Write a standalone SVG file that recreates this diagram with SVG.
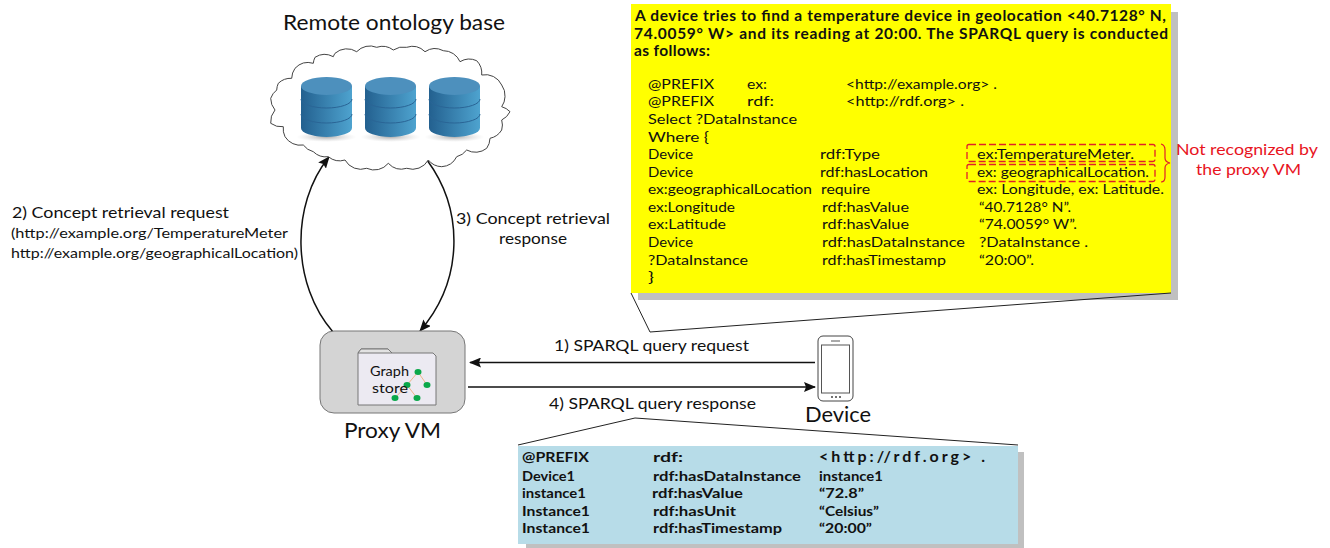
<svg xmlns="http://www.w3.org/2000/svg" width="1330" height="548" viewBox="0 0 1330 548">
<style>
text{font-family:"Lato","Open Sans","Liberation Sans",sans-serif;fill:#111;white-space:pre}
.b{font-weight:700;font-size:14px}
.h1{font-weight:700;font-size:15.5px}
.t{font-size:14px}
.l{font-size:16px}
.h{font-size:21px}
.r{font-size:16px;fill:#e8141e}
.c{fill:none;stroke:#111;stroke-width:1.5}
.cal{fill:none;stroke:#222;stroke-width:1}
.dash{fill:none;stroke:#e0202a;stroke-width:1.3;stroke-dasharray:7 3}
.e{stroke:#eeb48a;stroke-width:1;fill:none}
.d{fill:#0aa84a}
.band{fill:none;stroke:#2a6596;stroke-width:1}
</style>
<defs>
<marker id="ah" markerUnits="userSpaceOnUse" markerWidth="12" markerHeight="10" refX="11" refY="5" orient="auto"><path d="M0 0L12 5L0 10L2 5Z" fill="#111"/></marker>
<linearGradient id="cy" x1="0" x2="1" y1="0" y2="0"><stop offset="0" stop-color="#23608f"/><stop offset="1" stop-color="#4ea3cf"/></linearGradient>
<radialGradient id="sh"><stop offset="0" stop-color="#999" stop-opacity=".8"/><stop offset="1" stop-color="#ccc" stop-opacity="0"/></radialGradient>
<g id="cyl">
<ellipse cx="25.5" cy="60" rx="30" ry="5" fill="url(#sh)"/>
<path d="M0 9V51A25.5 9 0 0 0 51 51V9Z" fill="url(#cy)"/>
<ellipse cx="25.5" cy="9" rx="25.5" ry="9" fill="#4d90bd"/>
<path class="band" d="M0 22A25.5 9 0 0 0 51 22M0 37A25.5 9 0 0 0 51 37"/>
</g>
</defs>
<g id="connectors">
<path class="c" marker-end="url(#ah)" d="M333 332C292 285 290 205 329 157"/>
<path class="c" marker-end="url(#ah)" d="M427 160C464 210 464 280 420 331"/>
<path class="c" marker-end="url(#ah)" d="M815 362.5H470"/>
<path class="c" marker-end="url(#ah)" d="M468 387H815"/>
</g>
<g id="remote-ontology-base">
<text class="h" x="283" y="30" textLength="222" lengthAdjust="spacingAndGlyphs">Remote ontology base</text>
<path fill="#fff" stroke="#444" stroke-width="1" d="M291.7 78.3A18 18 0 0 1 295 68.3A18 18 0 0 1 313.3 63.3A18 18 0 0 1 315 57.3A18 18 0 0 1 333.3 56.7A18 18 0 0 1 335 53.3A18 18 0 0 1 356.7 51.7A18 18 0 0 1 376.7 47.3A18 18 0 0 1 393.3 50A18 18 0 0 1 406.7 47.3A18 18 0 0 1 425 51.7A18 18 0 0 1 443.3 50.7A18 18 0 0 1 460 61.7A18 18 0 0 1 476.7 60.7A18 18 0 0 1 481.7 75A18 18 0 0 1 501.7 85A18 18 0 0 1 505 96.7A18 18 0 0 1 501.7 106.7A18 18 0 0 1 510 111.7A18 18 0 0 1 501.7 120A18 18 0 0 1 501.7 130A18 18 0 0 1 490 138.3A18 18 0 0 1 486.7 148.3A18 18 0 0 1 466.7 150A18 18 0 0 1 456.7 156.7A18 18 0 0 1 441.7 166.7A18 18 0 0 1 428.3 160A18 18 0 0 1 406.7 168.3A18 18 0 0 1 388.3 163.3A18 18 0 0 1 366.7 168.3A18 18 0 0 1 345 160A18 18 0 0 1 328.3 156.7A18 18 0 0 1 313.3 151.7A18 18 0 0 1 303.3 145A18 18 0 0 1 285 136.7A18 18 0 0 1 283.3 126.7A18 18 0 0 1 270.7 123.3A18 18 0 0 1 275 110A18 18 0 0 1 270.7 98.3A18 18 0 0 1 276.7 90A18 18 0 0 1 278.3 83.3A18 18 0 0 1 291.7 78.3Z"/>
<use href="#cyl" x="301" y="77"/>
<use href="#cyl" x="365" y="77"/>
<use href="#cyl" x="429" y="77"/>
</g>
<g id="proxy-vm">
<rect x="320" y="331" width="145" height="82" rx="14" fill="#d4d4d4" stroke="#777" stroke-width="1"/>
<path d="M358 405V353L361 349H388L392 353H433L436 356V405Z" fill="#eceaf2" stroke="#777" stroke-width="1"/>
<path d="M358 353L361 349H388L392 353Z" fill="#e2e2e2" stroke="#777" stroke-width="1"/>
<path class="e" d="M418 372L407 385L395 398M418 372L427 385M407 385L417 398"/>
<ellipse class="d" cx="418" cy="372" rx="3.5" ry="3"/>
<ellipse class="d" cx="427" cy="385" rx="3.5" ry="3"/>
<ellipse class="d" cx="407" cy="385" rx="3.5" ry="3"/>
<ellipse class="d" cx="395" cy="398" rx="3.5" ry="3"/>
<ellipse class="d" cx="417" cy="398" rx="3.5" ry="3"/>
<text class="t" x="370" y="376" textLength="39" lengthAdjust="spacingAndGlyphs">Graph</text>
<text class="t" x="372" y="393" textLength="36" lengthAdjust="spacingAndGlyphs">store</text>
<text class="h" x="344" y="438" font-size="20" textLength="97" lengthAdjust="spacingAndGlyphs">Proxy VM</text>
</g>
<g id="device">
<rect x="818" y="336" width="35" height="65" rx="5" fill="#fff" stroke="#444" stroke-width="1"/>
<rect x="821.5" y="345" width="28" height="48" fill="#fff" stroke="#555" stroke-width="1"/>
<path d="M831 341H840" stroke="#555" stroke-width="1"/>
<path d="M831 397H841" stroke="#444" stroke-width="1.5" stroke-dasharray="2 2"/>
<text class="h" x="805" y="422" textLength="66" lengthAdjust="spacingAndGlyphs">Device</text>
</g>
<g id="labels">
<text class="l" x="554" y="351" textLength="195" lengthAdjust="spacingAndGlyphs">1) SPARQL query request</text>
<text class="l" x="549" y="409" textLength="207" lengthAdjust="spacingAndGlyphs">4) SPARQL query response</text>
<text class="l" x="12" y="218" textLength="217" lengthAdjust="spacingAndGlyphs">2) Concept retrieval request</text>
<text class="t" x="11" y="238" textLength="277" lengthAdjust="spacingAndGlyphs">(http://example.org/TemperatureMeter</text>
<text class="t" x="11" y="258" textLength="287" lengthAdjust="spacingAndGlyphs">http://example.org/geographicalLocation)</text>
<text class="l" x="456" y="224" textLength="154" lengthAdjust="spacingAndGlyphs">3) Concept retrieval</text>
<text class="l" x="499" y="244" textLength="68" lengthAdjust="spacingAndGlyphs">response</text>
</g>
<g id="query-callout">
<path d="M638 12H1178V300H638Z" fill="#c0c0c0"/>
<rect x="631" y="4" width="540" height="289" fill="#ffff00"/>
<path class="cal" d="M631 293L650 332L1171 293"/>
<text class="h1" x="635" y="21" textLength="531" lengthAdjust="spacing">A device tries to find a temperature device in geolocation &lt;40.7128° N,</text>
<text class="h1" x="634" y="39" textLength="534" lengthAdjust="spacing">74.0059° W&gt; and its reading at 20:00. The SPARQL query is conducted</text>
<text class="h1" x="634" y="56" textLength="76" lengthAdjust="spacing">as follows:</text>
<text class="t" x="648" y="89" textLength="66" lengthAdjust="spacingAndGlyphs">@PREFIX</text>
<text class="t" x="747" y="89" textLength="20" lengthAdjust="spacingAndGlyphs">ex:</text>
<text class="t" x="846" y="89" textLength="151" lengthAdjust="spacingAndGlyphs">&lt;http://example.org&gt; .</text>
<text class="t" x="648" y="106" textLength="66" lengthAdjust="spacingAndGlyphs">@PREFIX</text>
<text class="t" x="747" y="106" textLength="27" lengthAdjust="spacingAndGlyphs">rdf:</text>
<text class="t" x="846" y="106" textLength="118" lengthAdjust="spacingAndGlyphs">&lt;http://rdf.org&gt; .</text>
<text class="t" x="648" y="124" textLength="149" lengthAdjust="spacingAndGlyphs">Select ?DataInstance</text>
<text class="t" x="648" y="142" textLength="61" lengthAdjust="spacingAndGlyphs">Where {</text>
<text class="t" x="648" y="159" textLength="45" lengthAdjust="spacingAndGlyphs">Device</text>
<text class="t" x="820" y="159" textLength="60" lengthAdjust="spacingAndGlyphs">rdf:Type</text>
<text class="t" x="977" y="159" textLength="157" lengthAdjust="spacingAndGlyphs">ex:TemperatureMeter.</text>
<text class="t" x="648" y="177" textLength="45" lengthAdjust="spacingAndGlyphs">Device</text>
<text class="t" x="820" y="177" textLength="108" lengthAdjust="spacingAndGlyphs">rdf:hasLocation</text>
<text class="t" x="977" y="177" textLength="172" lengthAdjust="spacingAndGlyphs">ex: geographicalLocation.</text>
<text class="t" x="648" y="194" textLength="164" lengthAdjust="spacingAndGlyphs">ex:geographicalLocation</text>
<text class="t" x="821" y="194" textLength="49" lengthAdjust="spacingAndGlyphs">require</text>
<text class="t" x="977" y="194" textLength="187" lengthAdjust="spacingAndGlyphs">ex: Longitude, ex: Latitude.</text>
<text class="t" x="648" y="212" textLength="87" lengthAdjust="spacingAndGlyphs">ex:Longitude</text>
<text class="t" x="822" y="212" textLength="87" lengthAdjust="spacingAndGlyphs">rdf:hasValue</text>
<text class="t" x="979" y="212" textLength="92" lengthAdjust="spacingAndGlyphs">“40.7128° N”.</text>
<text class="t" x="648" y="229" textLength="78" lengthAdjust="spacingAndGlyphs">ex:Latitude</text>
<text class="t" x="822" y="229" textLength="87" lengthAdjust="spacingAndGlyphs">rdf:hasValue</text>
<text class="t" x="979" y="229" textLength="98" lengthAdjust="spacingAndGlyphs">“74.0059° W”.</text>
<text class="t" x="648" y="247" textLength="45" lengthAdjust="spacingAndGlyphs">Device</text>
<text class="t" x="822" y="247" textLength="143" lengthAdjust="spacingAndGlyphs">rdf:hasDataInstance</text>
<text class="t" x="979" y="247" textLength="109" lengthAdjust="spacingAndGlyphs">?DataInstance .</text>
<text class="t" x="648" y="265" textLength="100" lengthAdjust="spacingAndGlyphs">?DataInstance</text>
<text class="t" x="822" y="265" textLength="124" lengthAdjust="spacingAndGlyphs">rdf:hasTimestamp</text>
<text class="t" x="979" y="265" textLength="55" lengthAdjust="spacingAndGlyphs">“20:00”.</text>
<text class="t" x="648" y="282" textLength="6" lengthAdjust="spacingAndGlyphs">}</text>
<rect class="dash" x="967" y="144.5" width="188" height="17" rx="2"/>
<rect class="dash" x="967" y="164.5" width="188" height="17" rx="2"/>
<path d="M1161 144Q1165 145 1165 150V158Q1165 162 1170 163Q1165 164 1165 168V177Q1165 182 1161 182" fill="none" stroke="#e0202a" stroke-width="1.2"/>
<text class="r" x="1176" y="155" textLength="142" lengthAdjust="spacingAndGlyphs">Not recognized by</text>
<text class="r" x="1196" y="175" textLength="105" lengthAdjust="spacingAndGlyphs">the proxy VM</text>
</g>
<g id="response-callout">
<path d="M526 452H1024V548H526Z" fill="#c0c0c0"/>
<rect x="518" y="446" width="500" height="98" fill="#b7dce8"/>
<path class="cal" d="M518 445L635 418L1018 445"/>
<text class="b" x="522" y="462" textLength="67" lengthAdjust="spacingAndGlyphs">@PREFIX</text>
<text class="b" x="653" y="462" textLength="30" lengthAdjust="spacingAndGlyphs">rdf:</text>
<text class="b" x="819" y="462" font-size="16" style="font-size:16px" textLength="166" lengthAdjust="spacing">&lt;http://rdf.org&gt; .</text>
<text class="b" x="522" y="481" textLength="53" lengthAdjust="spacingAndGlyphs">Device1</text>
<text class="b" x="653" y="481" textLength="148" lengthAdjust="spacingAndGlyphs">rdf:hasDataInstance</text>
<text class="b" x="819" y="481" textLength="64" lengthAdjust="spacingAndGlyphs">instance1</text>
<text class="b" x="522" y="498" textLength="64" lengthAdjust="spacingAndGlyphs">instance1</text>
<text class="b" x="652" y="498" textLength="91" lengthAdjust="spacingAndGlyphs">rdf:hasValue</text>
<text class="b" x="819" y="498" textLength="45" lengthAdjust="spacingAndGlyphs">“72.8”</text>
<text class="b" x="522" y="516" textLength="68" lengthAdjust="spacingAndGlyphs">Instance1</text>
<text class="b" x="653" y="516" textLength="83" lengthAdjust="spacingAndGlyphs">rdf:hasUnit</text>
<text class="b" x="819" y="516" textLength="60" lengthAdjust="spacingAndGlyphs">“Celsius”</text>
<text class="b" x="522" y="533" textLength="68" lengthAdjust="spacingAndGlyphs">Instance1</text>
<text class="b" x="653" y="533" textLength="129" lengthAdjust="spacingAndGlyphs">rdf:hasTimestamp</text>
<text class="b" x="819" y="533" textLength="53" lengthAdjust="spacingAndGlyphs">“20:00”</text>
</g>
</svg>
